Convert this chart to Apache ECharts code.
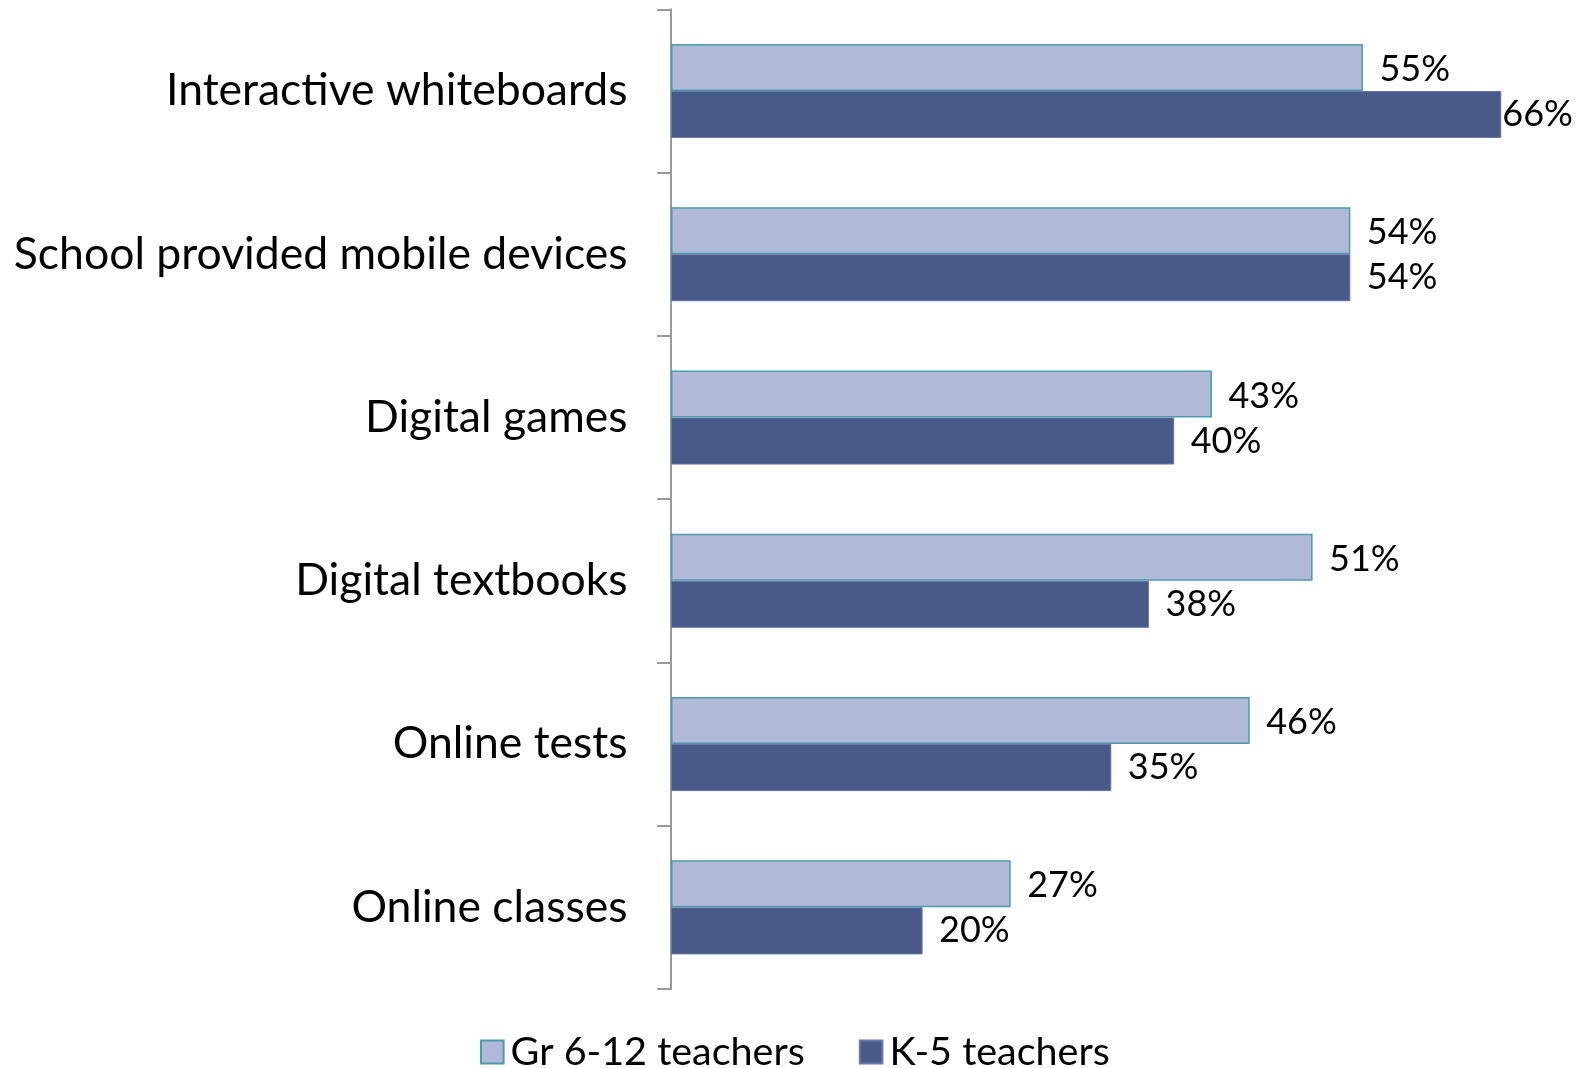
<!DOCTYPE html>
<html>
<head>
<meta charset="utf-8">
<script src="https://cdn.jsdelivr.net/npm/echarts@6/dist/echarts.min.js"></script>
<style>
html,body{margin:0;padding:0;background:#fff;overflow:hidden;}
#main{width:1587px;height:1068px;}
</style>
</head>
<body>
<div id="main"></div>
<script>
const categories = ["Interactive whiteboards","School provided mobile devices","Digital games","Digital textbooks","Online tests","Online classes"];
const seriesNames = ["Gr 6-12 teachers","K-5 teachers"];
const gr612 = [55,54,43,51,46,27];
const k5 = [66,54,40,38,35,20];

const FONT = '"Gill Sans","Gill Sans MT","Lato","Open Sans",sans-serif';
const chart = echarts.init(document.getElementById('main'));
const k5Data = k5.map((v,i)=> i===0 ? {value:v,label:{distance:1}} : v);
const valLabel = {show:true,position:'right',distance:16.5,formatter:'{c}%',color:'#000',fontSize:36,fontFamily:FONT};
chart.setOption({
  animation:false,
  grid:{left:671,top:9.3,bottom:79,right:35.4,containLabel:false},
  xAxis:{type:'value',min:0,max:70,show:false},
  yAxis:{
    type:'category',data:categories,inverse:true,
    axisLine:{show:true,lineStyle:{color:'#999',width:2}},
    axisTick:{show:true,length:14,lineStyle:{color:'#999',width:2}},
    axisLabel:{color:'#000',fontSize:44.5,fontFamily:FONT,margin:43.5}
  },
  legend:{
    top:1027,left:475,itemWidth:22.6,itemHeight:23,itemGap:54,
    icon:'rect',
    textStyle:{color:'#000',fontSize:39.5,fontFamily:FONT,padding:[0,0,0,2]},
    data:seriesNames
  },
  series:[
    {name:seriesNames[0],type:'bar',data:gr612,barGap:'0%',barCategoryGap:'42.4%',
     itemStyle:{color:'#B0B9D7',borderColor:'#4A9BAE',borderWidth:1.5},
     label:Object.assign({},valLabel,{offset:[0,2]})},
    {name:seriesNames[1],type:'bar',data:k5Data,barGap:'0%',barCategoryGap:'42.4%',
     itemStyle:{color:'#48598A',borderColor:'#6878A6',borderWidth:1},
     label:valLabel}
  ]
});
</script>
</body>
</html>
